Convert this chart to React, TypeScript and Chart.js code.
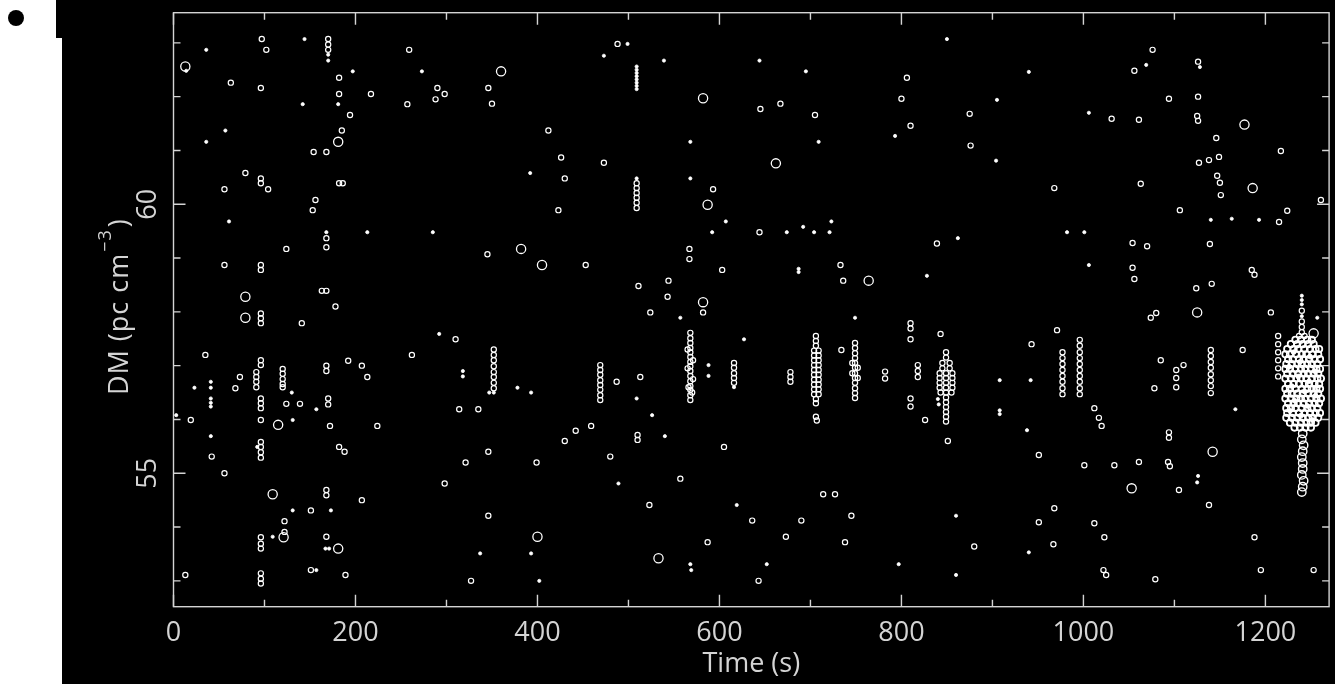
import React, { useEffect, useRef } from "react";
import { Chart, registerables } from "chart.js";

Chart.register(...registerables);

type Pt = [number, number];

// Axis limits and tick marks
const timeLimits = [0, 1270];
const dmLimits = [52.52, 63.56];
const timeMajorTicks = [0, 200, 400, 600, 800, 1000, 1200];
const timeMinorTicks = [100, 300, 500, 700, 900, 1100];
const timeTickLabels = ["0", "200", "400", "600", "800", "1000", "1200"];
const dmMajorTicks = [55, 60];
const dmMinorTicks = [53, 54, 56, 57, 58, 59, 61, 62, 63];
const dmTickLabels = ["55", "60"];

// Weak candidates (drawn as small filled dots): [time s, DM]
const faintPulses: Pt[] = [
  [36, 62.87], [14, 62.48], [144, 63.07], [170, 62.78], [170, 62.67], [197, 62.47], [273, 62.47],
  [142, 61.86], [181, 61.86], [57, 61.37], [36, 61.16], [392, 60.58], [61, 59.68], [168, 59.48],
  [213, 59.48], [285, 59.48], [292, 57.59], [347, 56.5], [352, 56.5], [318, 56.9], [318, 56.8],
  [378, 56.59], [393, 56.5], [23, 56.59], [41, 56.7], [41, 56.59], [41, 56.39], [41, 56.31],
  [41, 56.24], [130, 56.5], [157, 56.19], [3, 56.08], [131, 55.99], [41, 55.69], [92, 55.49],
  [131, 54.31], [173, 54.31], [109, 53.82], [167, 53.6], [171, 53.6], [337, 53.51], [393, 53.51],
  [157, 53.2], [402, 53.0],
  [499, 62.98], [473, 62.76], [539, 62.67], [509, 62.56], [509, 62.5], [509, 62.44], [509, 62.38],
  [509, 62.32], [509, 62.26], [509, 62.2], [509, 62.14], [644, 62.67], [695, 62.47], [850, 63.07],
  [793, 61.27], [709, 61.16], [568, 61.16], [568, 60.48], [509, 60.48], [607, 59.68], [592, 59.48],
  [674, 59.48], [692, 59.58], [704, 59.48], [723, 59.68], [721, 59.48], [862, 59.37], [687, 58.8],
  [687, 58.74], [828, 58.67], [557, 57.89], [749, 57.89], [627, 57.49], [509, 56.39], [588, 57.01],
  [588, 56.81], [616, 56.6], [840, 56.38], [841, 56.28], [526, 56.08], [540, 55.69], [489, 54.81],
  [619, 54.41], [860, 54.21], [568, 53.31], [569, 53.2], [652, 53.31], [797, 53.31], [860, 53.11],
  [940, 62.46], [1069, 62.59], [1128, 62.55], [1006, 61.7], [905, 61.94], [904, 60.81], [1140, 59.71],
  [1163, 59.73], [1193, 59.71], [982, 59.48], [1001, 59.48], [1006, 58.87], [1257, 57.89],
  [942, 56.73], [1167, 56.19], [938, 55.8], [1126, 54.95], [1125, 54.83], [940, 53.53], [908, 56.17],
  [908, 56.1], [908, 56.73], [1240, 58.3], [1240, 58.22], [1240, 58.14], [1240, 57.92],
];

// Ordinary candidates, first part of the observation
const pulsesEarly: Pt[] = [
  [97, 63.07], [102, 62.87], [170, 63.07], [170, 62.97], [170, 62.87], [259, 62.87], [63, 62.26],
  [96, 62.16], [182, 62.35], [182, 62.05], [217, 62.05], [290, 62.16], [298, 62.05], [288, 61.95],
  [346, 62.16], [350, 61.87], [257, 61.86], [194, 61.66], [185, 61.37], [154, 60.97], [168, 60.97],
  [412, 61.37], [426, 60.87], [430, 60.48], [79, 60.58], [96, 60.48], [96, 60.39], [104, 60.28],
  [56, 60.28], [182, 60.39], [186, 60.39], [156, 60.08], [153, 59.89], [423, 59.89], [168, 59.37],
  [168, 59.2], [124, 59.17], [345, 59.07], [56, 58.87], [96, 58.87], [96, 58.78], [163, 58.39],
  [168, 58.39], [178, 58.1], [96, 57.97], [96, 57.88], [96, 57.79], [141, 57.79], [310, 57.49],
  [35, 57.2], [96, 57.1], [96, 57.01], [168, 57.0], [168, 56.9], [192, 57.09], [207, 57.0],
  [213, 56.79], [262, 57.2], [352, 57.3], [352, 57.2], [352, 57.1], [352, 56.99], [352, 56.88],
  [352, 56.79], [352, 56.68], [352, 56.58], [73, 56.79], [68, 56.58], [91, 56.88], [91, 56.79],
  [91, 56.7], [91, 56.6], [120, 56.94], [120, 56.85], [120, 56.75], [120, 56.66], [120, 56.6],
  [170, 56.39], [170, 56.28], [96, 56.39], [96, 56.3], [96, 56.21], [124, 56.29], [139, 56.29],
  [19, 55.99], [96, 55.99], [172, 55.88], [224, 55.88], [314, 56.19], [335, 56.19], [430, 55.6],
  [42, 55.31], [96, 55.58], [96, 55.49], [96, 55.39], [96, 55.29], [182, 55.49], [188, 55.4],
  [346, 55.4], [321, 55.2], [399, 55.2], [56, 55.0], [298, 54.81], [168, 54.69], [168, 54.59],
  [207, 54.5], [151, 54.31], [346, 54.21], [122, 54.11], [122, 53.91], [96, 53.81], [96, 53.69],
  [96, 53.6], [168, 53.82], [13, 53.11], [96, 53.14], [96, 53.04], [96, 52.95], [151, 53.2],
  [189, 53.11], [327, 53.0],
];

// Ordinary candidates, middle part
const pulsesMiddle: Pt[] = [
  [488, 62.98], [806, 62.35], [800, 61.96], [810, 61.46], [645, 61.77], [667, 61.87], [705, 61.66],
  [473, 60.77], [509, 60.39], [509, 60.3], [509, 60.21], [509, 60.12], [509, 60.03], [509, 59.93],
  [593, 60.28], [644, 59.48], [839, 59.27], [567, 59.17], [567, 58.98], [453, 58.87], [603, 58.78],
  [733, 58.87], [736, 58.58], [511, 58.48], [544, 58.58], [543, 58.28], [524, 57.99], [582, 57.99],
  [810, 57.79], [810, 57.69], [810, 57.49], [843, 57.59],
  [568, 57.61], [568, 57.51], [568, 57.42], [568, 57.33], [568, 57.25], [568, 57.16], [568, 57.07],
  [568, 56.99], [568, 56.9], [568, 56.81], [568, 56.71], [568, 56.62], [568, 56.55], [568, 56.45],
  [568, 56.36], [565, 57.3], [571, 57.1], [565, 56.95], [571, 56.75], [566, 56.6], [570, 56.5],
  [469, 57.01], [469, 56.92], [469, 56.83], [469, 56.73], [469, 56.64], [469, 56.55], [469, 56.45],
  [469, 56.36], [487, 56.7], [513, 56.79],
  [616, 57.05], [616, 56.96], [616, 56.86], [616, 56.77], [616, 56.68],
  [678, 56.88], [678, 56.79], [678, 56.7],
  [706, 57.55], [706, 57.46], [706, 57.37], [704, 57.28], [709, 57.28], [704, 57.19], [709, 57.19],
  [704, 57.1], [709, 57.1], [704, 57.01], [709, 57.01], [704, 56.92], [709, 56.92], [704, 56.83],
  [709, 56.83], [704, 56.74], [709, 56.74], [704, 56.65], [709, 56.65], [704, 56.56], [709, 56.56],
  [704, 56.47], [709, 56.47], [706, 56.38], [706, 56.3], [706, 56.05], [707, 55.98],
  [749, 57.42], [749, 57.33], [749, 57.23], [749, 57.14], [749, 57.05], [749, 56.96], [749, 56.86],
  [749, 56.77], [749, 56.68], [749, 56.58], [749, 56.49], [749, 56.4], [746, 57.05], [752, 56.96],
  [746, 56.86], [752, 56.77],
  [734, 57.29], [782, 56.89], [782, 56.76], [818, 57.01], [818, 56.9], [818, 56.79], [810, 56.39],
  [810, 56.24], [826, 55.99],
  [849, 57.25], [849, 57.15], [845, 57.05], [853, 57.05], [845, 56.95], [853, 56.95], [842, 56.86],
  [849, 56.86], [856, 56.86], [842, 56.77], [849, 56.77], [856, 56.77], [842, 56.68], [849, 56.68],
  [856, 56.68], [842, 56.59], [849, 56.59], [856, 56.59], [843, 56.5], [849, 56.5], [855, 56.5],
  [849, 56.41], [849, 56.32], [849, 56.23], [849, 56.14], [849, 56.05], [849, 55.96],
  [851, 55.6], [510, 55.71], [510, 55.62], [459, 55.88], [442, 55.79], [480, 55.31], [605, 55.49],
  [557, 54.9], [523, 54.41], [636, 54.12], [690, 54.12], [714, 54.61], [727, 54.61], [745, 54.21],
  [673, 53.82], [738, 53.72], [587, 53.72], [643, 53.0],
];

// Ordinary candidates, last part
const pulsesLate: Pt[] = [
  [1056, 62.48], [1076, 62.87], [1126, 62.65], [1094, 61.96], [1126, 62.0], [1125, 61.64],
  [1126, 61.55], [1146, 61.23], [1138, 60.82], [1127, 60.77], [1149, 60.88], [1147, 60.53],
  [1150, 60.4], [1151, 60.17], [1031, 61.59], [1061, 61.57], [875, 61.68], [876, 61.09],
  [1217, 60.99], [968, 60.3], [1063, 60.38], [1106, 59.89], [1224, 59.88], [1261, 60.08],
  [1215, 59.67], [1054, 59.28], [1070, 59.22], [1139, 59.26], [1054, 58.82], [1056, 58.61],
  [1185, 58.78], [1188, 58.69], [1124, 58.44], [1141, 58.52], [1074, 57.89], [1080, 57.98],
  [943, 57.4], [971, 57.66], [1175, 57.29], [1214, 57.55], [1214, 57.4], [1214, 57.25],
  [1214, 57.1], [1214, 56.95], [1214, 56.8], [1206, 57.99], [1085, 57.1], [1110, 57.01],
  [1140, 57.29], [1140, 57.18], [1140, 57.07], [1140, 56.96], [1140, 56.84], [1140, 56.73],
  [1140, 56.62], [1140, 56.49], [1102, 56.92], [1102, 56.77], [1102, 56.6],
  [977, 57.25], [977, 57.14], [977, 57.03], [977, 56.92], [977, 56.81], [977, 56.7], [977, 56.58],
  [977, 56.47], [996, 57.48], [996, 57.37], [996, 57.25], [996, 57.14], [996, 57.03], [996, 56.92],
  [996, 56.81], [996, 56.7], [996, 56.58], [996, 56.47],
  [1078, 56.58], [1012, 56.21], [1017, 56.03], [1020, 55.88], [1094, 55.76], [1094, 55.66],
  [951, 55.34], [1001, 55.15], [1034, 55.15], [1061, 55.21], [1093, 55.21], [1095, 55.13],
  [1105, 54.69], [1138, 54.41], [968, 54.35], [951, 54.09], [1012, 54.07], [1023, 53.81],
  [1188, 53.81], [967, 53.68], [1022, 53.2], [1025, 53.11], [1079, 53.03], [1195, 53.2],
  [1253, 53.2], [880, 53.64],
  [1240, 58.02], [1240, 57.82], [1240, 57.72], [1240, 57.62], [1237, 57.55], [1243, 57.55],
];

// Strong candidates (large circles)
const brightPulses: Pt[] = [
  [13, 62.56], [360, 62.47], [181, 61.16], [382, 59.17], [405, 58.87], [79, 58.28], [79, 57.89],
  [115, 55.9], [109, 54.61], [121, 53.81], [181, 53.6], [400, 53.82], [582, 61.97], [662, 60.76],
  [587, 59.99], [764, 58.58], [582, 58.18], [533, 53.42], [1177, 61.48], [1186, 60.3], [1125, 57.99],
  [1142, 55.4], [1053, 54.72], [1253, 57.6],
];

// Dense burst around t = 1240 s
const burstCore: Pt[] = [
  [1233, 57.48], [1239, 57.48], [1246, 57.48], [1251, 57.48],
  [1228, 57.4], [1235, 57.4], [1241, 57.4], [1247, 57.4], [1253, 57.4],
  [1224, 57.31], [1231, 57.31], [1236, 57.31], [1243, 57.31], [1249, 57.31], [1255, 57.31], [1259, 57.31],
  [1222, 57.21], [1227, 57.21], [1234, 57.21], [1240, 57.21], [1245, 57.21], [1252, 57.21], [1258, 57.21],
  [1225, 57.12], [1230, 57.12], [1237, 57.12], [1242, 57.12], [1248, 57.12], [1254, 57.12], [1260, 57.12],
  [1223, 57.03], [1229, 57.03], [1235, 57.03], [1240, 57.03], [1246, 57.03], [1251, 57.03], [1257, 57.03],
  [1222, 56.94], [1227, 56.94], [1233, 56.94], [1239, 56.94], [1244, 56.94], [1250, 56.94], [1256, 56.94], [1260, 56.94],
  [1224, 56.85], [1230, 56.85], [1236, 56.85], [1242, 56.85], [1247, 56.85], [1253, 56.85], [1258, 56.85],
  [1222, 56.76], [1228, 56.76], [1234, 56.76], [1239, 56.76], [1245, 56.76], [1251, 56.76], [1257, 56.76], [1261, 56.76],
  [1225, 56.66], [1231, 56.66], [1237, 56.66], [1243, 56.66], [1248, 56.66], [1254, 56.66], [1259, 56.66],
  [1222, 56.57], [1227, 56.57], [1233, 56.57], [1240, 56.57], [1246, 56.57], [1251, 56.57], [1256, 56.57], [1260, 56.57],
  [1224, 56.48], [1229, 56.48], [1235, 56.48], [1241, 56.48], [1247, 56.48], [1253, 56.48], [1258, 56.48],
  [1222, 56.39], [1228, 56.39], [1234, 56.39], [1239, 56.39], [1244, 56.39], [1250, 56.39], [1256, 56.39], [1261, 56.39],
  [1225, 56.3], [1231, 56.3], [1236, 56.3], [1242, 56.3], [1248, 56.3], [1254, 56.3], [1259, 56.3],
  [1223, 56.21], [1228, 56.21], [1233, 56.21], [1240, 56.21], [1246, 56.21], [1251, 56.21], [1257, 56.21],
  [1224, 56.12], [1230, 56.12], [1237, 56.12], [1243, 56.12], [1249, 56.12], [1255, 56.12], [1260, 56.12],
  [1223, 56.03], [1229, 56.03], [1235, 56.03], [1241, 56.03], [1247, 56.03], [1252, 56.03], [1258, 56.03],
  [1227, 55.94], [1233, 55.94], [1239, 55.94], [1245, 55.94], [1250, 55.94], [1255, 55.94],
  [1232, 55.85], [1238, 55.85], [1244, 55.85], [1250, 55.85],
];

// Brightest members inside the burst (filled)
const burstPeaks: Pt[] = [
  [1231, 57.25], [1249, 57.17], [1238, 57.07], [1226, 56.98], [1254, 56.9], [1236, 56.8],
  [1248, 56.71], [1229, 56.62], [1243, 56.52], [1255, 56.44], [1232, 56.35], [1246, 56.25],
  [1227, 56.16], [1239, 56.07], [1252, 55.99],
];

const burstTail: Pt[] = [
  [1241, 55.74], [1240, 55.63], [1242, 55.52], [1241, 55.41], [1240, 55.3], [1241, 55.19],
  [1241, 55.08], [1240, 54.97], [1242, 54.86], [1241, 54.75], [1240, 54.65],
];

const INK = "#d4d4d4";
const FONT = '"Open Sans", "DejaVu Sans", sans-serif';

const toXY = (pts: Pt[]) => pts.map(([t, dm]) => ({ x: t, y: dm }));

const ringSet = (data: Pt[], radius: number, width: number) => ({
  data: toXY(data),
  pointStyle: "circle",
  pointRadius: radius,
  pointHoverRadius: radius,
  pointBorderWidth: width,
  pointBorderColor: "#ffffff",
  pointBackgroundColor: "rgba(0,0,0,0)",
  showLine: false,
});

const dotSet = (data: Pt[], radius: number) => ({
  data: toXY(data),
  pointStyle: "circle",
  pointRadius: radius,
  pointHoverRadius: radius,
  pointBorderWidth: 0.8,
  pointBorderColor: "#ffffff",
  pointBackgroundColor: "#ffffff",
  showLine: false,
});

// Box with inward ticks on all sides, plus labels
const boxFrame = {
  id: "boxFrame",
  afterDatasetsDraw(chart: any) {
    const { ctx, chartArea: a, scales } = chart;
    const xs = scales.x;
    const ys = scales.y;
    ctx.save();
    ctx.strokeStyle = INK;
    ctx.lineWidth = 1.4;
    ctx.strokeRect(a.left, a.top, a.right - a.left, a.bottom - a.top);
    ctx.beginPath();
    const xTick = (v: number, len: number) => {
      const px = xs.getPixelForValue(v);
      ctx.moveTo(px, a.bottom);
      ctx.lineTo(px, a.bottom - len);
      ctx.moveTo(px, a.top);
      ctx.lineTo(px, a.top + len);
    };
    const yTick = (v: number, len: number) => {
      const py = ys.getPixelForValue(v);
      ctx.moveTo(a.left, py);
      ctx.lineTo(a.left + len, py);
      ctx.moveTo(a.right, py);
      ctx.lineTo(a.right - len, py);
    };
    timeMajorTicks.forEach((v) => xTick(v, 12));
    timeMinorTicks.forEach((v) => xTick(v, 7));
    dmMajorTicks.forEach((v) => yTick(v, 12));
    dmMinorTicks.forEach((v) => yTick(v, 7));
    ctx.stroke();

    ctx.fillStyle = INK;
    ctx.font = `27px ${FONT}`;
    ctx.textAlign = "center";
    ctx.textBaseline = "alphabetic";
    timeMajorTicks.forEach((v, i) => {
      ctx.fillText(timeTickLabels[i], xs.getPixelForValue(v), a.bottom + 34);
    });
    ctx.fillText("Time (s)", (a.left + a.right) / 2, a.bottom + 65);

    dmMajorTicks.forEach((v, i) => {
      ctx.save();
      ctx.translate(a.left - 17.5, ys.getPixelForValue(v));
      ctx.rotate(-Math.PI / 2);
      ctx.fillText(dmTickLabels[i], 0, 0);
      ctx.restore();
    });

    // Y title with superscript unit
    ctx.save();
    ctx.translate(a.left - 46, (a.top + a.bottom) / 2 - 3);
    ctx.rotate(-Math.PI / 2);
    ctx.textAlign = "left";
    const main = "DM (pc cm";
    const sup = "\u22123";
    const close = ")";
    ctx.font = `27px ${FONT}`;
    (ctx as any).letterSpacing = "1px";
    const w1 = ctx.measureText(main).width;
    const w3 = ctx.measureText(close).width;
    ctx.font = `18px ${FONT}`;
    const w2 = ctx.measureText(sup).width;
    const x0 = -(w1 + w2 + w3 + 3) / 2;
    ctx.font = `27px ${FONT}`;
    ctx.fillText(main, x0, 0);
    ctx.font = `18px ${FONT}`;
    ctx.fillText(sup, x0 + w1 + 1, -17);
    ctx.font = `27px ${FONT}`;
    ctx.fillText(close, x0 + w1 + w2 + 3, 0);
    ctx.restore();

    ctx.restore();
  },
};

export default function App() {
  const canvasRef = useRef<HTMLCanvasElement | null>(null);

  useEffect(() => {
    const canvas = canvasRef.current;
    if (!canvas) return;
    const chart = new Chart(canvas, {
      type: "scatter",
      data: {
        datasets: [
          dotSet(faintPulses, 1.6) as any,
          ringSet(pulsesEarly, 2.6, 1.2) as any,
          ringSet(pulsesMiddle, 2.6, 1.2) as any,
          ringSet(pulsesLate, 2.6, 1.2) as any,
          ringSet(brightPulses, 4.6, 1.3) as any,
          ringSet(burstCore, 3.2, 1.8) as any,
          dotSet(burstPeaks, 2.4) as any,
          ringSet(burstTail, 4.2, 1.4) as any,
        ],
      },
      options: {
        animation: false,
        responsive: false,
        devicePixelRatio: 1,
        events: [],
        layout: { padding: { left: 111.5, right: 5, top: 12.7, bottom: 77.3 } },
        plugins: {
          legend: { display: false },
          tooltip: { enabled: false },
        },
        scales: {
          x: { type: "linear", display: false, min: timeLimits[0], max: timeLimits[1] },
          y: { type: "linear", display: false, min: dmLimits[0], max: dmLimits[1] },
        },
      },
      plugins: [boxFrame],
    });
    return () => chart.destroy();
  }, []);

  return (
    <div
      style={{
        position: "fixed",
        left: 0,
        top: 0,
        width: 1335,
        height: 684,
        background: "#ffffff",
        overflow: "hidden",
      }}
    >
      <div
        style={{
          position: "absolute",
          left: 8,
          top: 10,
          width: 16,
          height: 16,
          borderRadius: "50%",
          background: "#000000",
        }}
      />
      <div
        style={{
          position: "absolute",
          left: 56,
          top: 0,
          width: 6,
          height: 38,
          background: "#000000",
        }}
      />
      <canvas
        ref={canvasRef}
        width={1273}
        height={684}
        style={{ position: "absolute", left: 62, top: 0, width: 1273, height: 684, background: "#000000" }}
      />
    </div>
  );
}
